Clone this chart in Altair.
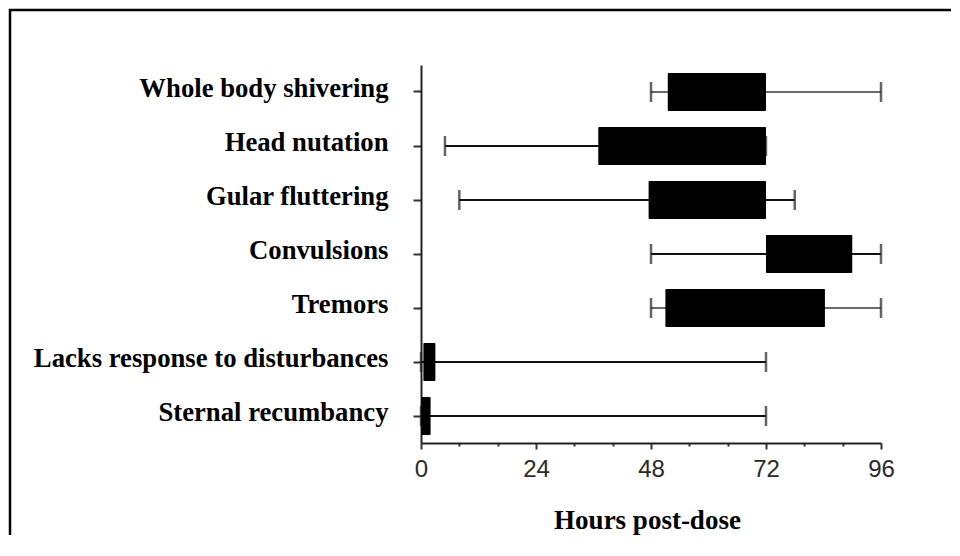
import altair as alt
import pandas as pd

behaviors = [
    "Whole body shivering",
    "Head nutation",
    "Gular fluttering",
    "Convulsions",
    "Tremors",
    "Lacks response to disturbances",
    "Sternal recumbancy",
]
whisker_lo = [48, 5, 8, 48, 48, 0, 0]
box_lo = [51.5, 37, 47.5, 72, 51, 0.5, 0]
box_hi = [72, 72, 72, 90, 84.3, 3, 2]
whisker_hi = [96, 72, 78, 96, 96, 72, 72]
x_ticks = [0, 8, 16, 24, 32, 40, 48, 56, 64, 72, 80, 88, 96]

df = pd.DataFrame({
    "behavior": behaviors,
    "wlo": whisker_lo,
    "blo": box_lo,
    "bhi": box_hi,
    "whi": whisker_hi,
})

SERIF = "Liberation Serif"
SANS = "Liberation Sans"

y_axis = alt.Axis(
    title=None,
    labelFont=SERIF,
    labelFontWeight="bold",
    labelFontSize=26.7,
    labelColor="#000",
    labelBaseline="alphabetic",
    labelOffset=5,
    labelPadding=25,
    labelLimit=600,
    tickSize=8,
    tickWidth=2,
    tickColor="#333",
    domainWidth=2,
    domainColor="#222",
)
y_scale = alt.Scale(paddingInner=0.3, paddingOuter=0.15)

x_scale = alt.Scale(domain=[0, 96], nice=False, zero=False)
x_axis = alt.Axis(
    title="Hours post-dose",
    titleFont=SERIF,
    titleFontWeight="bold",
    titleFontSize=27,
    titleColor="#000",
    titleBaseline="alphabetic",
    titleY=85,
    titleX=226,
    values=x_ticks,
    labelExpr="datum.value % 24 === 0 ? datum.label : ''",
    labelFont=SANS,
    labelFontSize=24,
    labelColor="#2a2a2a",
    labelPadding=8,
    labelFlush=False,
    labelOverlap=False,
    tickSize={"condition": {"test": "datum.value % 24 === 0", "value": 6}, "value": 3},
    tickWidth=2,
    tickColor="#333",
    domainWidth=2,
    domainColor="#222",
    grid=False,
)


def Y():
    return alt.Y("behavior:N", sort=behaviors, scale=y_scale, axis=y_axis)


def X(field):
    return alt.X(field, type="quantitative", scale=x_scale, axis=x_axis)


grey_rows = alt.FieldOneOfPredicate(field="behavior", oneOf=["Whole body shivering", "Tremors"])
wcolor = alt.condition(grey_rows, alt.value("#6a6a6a"), alt.value("#111"))

base = alt.Chart(df)

whisker = base.mark_rule(strokeWidth=2).encode(
    x=X("wlo"),
    x2="whi:Q",
    y=Y(),
    color=wcolor,
)
cap_lo = base.mark_tick(orient="vertical", size=20, thickness=2.5).encode(
    x=X("wlo"),
    y=Y(),
    color=alt.value("#222"),
)
cap_hi = base.mark_tick(orient="vertical", size=20, thickness=2.5).encode(
    x=X("whi"),
    y=Y(),
    color=alt.value("#222"),
)
box = base.mark_bar(color="#000", cornerRadius=1).encode(
    x=X("blo"),
    x2="bhi:Q",
    y=Y(),
)

frame_data = alt.Data(values=[{"k": 1}])
frame_top = alt.Chart(frame_data).mark_rule(color="#000", strokeWidth=2.5).encode(
    x=alt.value(-412), x2=alt.value(540), y=alt.value(-55), y2=alt.value(-55)
)
frame_left = alt.Chart(frame_data).mark_rule(color="#000", strokeWidth=2.5).encode(
    x=alt.value(-411), x2=alt.value(-411), y=alt.value(-56), y2=alt.value(490)
)

chart = (
    alt.layer(whisker, cap_lo, cap_hi, box, frame_top, frame_left)
    .properties(
        width=460,
        height=378,
        background="white",
        autosize=alt.AutoSizeParams(type="none"),
        padding={"left": 413, "top": 57, "right": 70, "bottom": 92},
    )
    .configure_view(stroke="transparent", strokeWidth=0)
)

chart.save("out.html", embed_options={"renderer": "svg", "actions": False})
